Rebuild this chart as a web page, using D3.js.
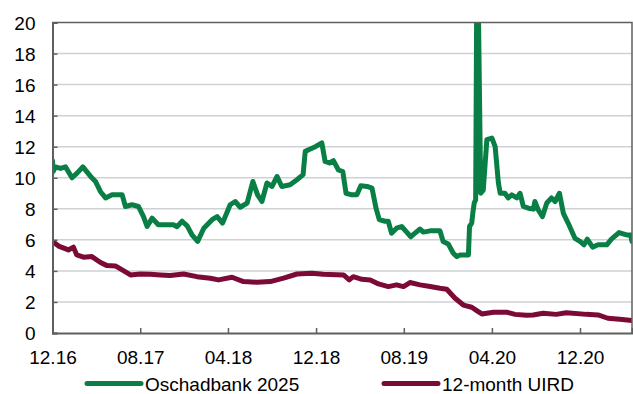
<!DOCTYPE html>
<html>
<head>
<meta charset="utf-8">
<script src="https://cdn.jsdelivr.net/npm/d3@7"></script>
<style>
  html, body { margin: 0; padding: 0; background: #fff; }
  svg { display: block; font-family: "Liberation Sans", Arial, sans-serif; }
</style>
</head>
<body>
<svg id="chart" width="633" height="394"></svg>
<script>
// Oschadbank 2025 Eurobond yield vs 12-month UIRD, %
const oschadDates = [
  "2016-12-01","2016-12-03","2016-12-09","2016-12-23","2017-01-06","2017-01-24","2017-02-07","2017-02-23",
  "2017-03-16","2017-03-30","2017-04-13","2017-04-27","2017-05-15","2017-06-12","2017-06-21","2017-07-09",
  "2017-07-27","2017-08-10","2017-08-20","2017-09-03","2017-09-20","2017-10-10","2017-11-01","2017-11-11",
  "2017-11-25","2017-12-09","2017-12-23","2018-01-07","2018-01-24","2018-02-16","2018-03-02","2018-03-17",
  "2018-04-07","2018-04-21","2018-05-05","2018-05-24","2018-06-09","2018-06-22","2018-07-04","2018-07-18",
  "2018-08-01","2018-08-15","2018-08-28","2018-09-20","2018-10-09","2018-10-26","2018-11-01","2018-11-15",
  "2018-11-29","2018-12-17","2018-12-26","2019-01-07","2019-01-18","2019-02-01","2019-02-13","2019-02-22",
  "2019-03-10","2019-03-24","2019-04-04","2019-04-21","2019-05-05","2019-05-16","2019-05-25","2019-06-10",
  "2019-06-19","2019-06-28","2019-07-12","2019-07-26","2019-08-09","2019-08-20","2019-09-01","2019-09-15",
  "2019-09-24","2019-10-13","2019-11-09","2019-11-18","2019-12-02","2019-12-16","2019-12-26","2020-01-04",
  "2020-01-27","2020-01-30","2020-02-05","2020-02-08","2020-02-12","2020-02-16","2020-02-19","2020-02-23",
  "2020-03-01","2020-03-08","2020-03-18","2020-04-01","2020-04-10","2020-04-19","2020-04-24","2020-05-07",
  "2020-05-16","2020-05-26","2020-06-09","2020-06-18","2020-06-27","2020-07-11","2020-07-25","2020-07-29",
  "2020-08-07","2020-08-19","2020-08-31","2020-09-13","2020-09-23","2020-10-05","2020-10-16","2020-10-29",
  "2020-11-17","2020-12-01","2020-12-12","2020-12-21","2021-01-05","2021-01-20","2021-02-13","2021-02-26",
  "2021-03-19","2021-04-09","2021-04-20","2021-04-24"
];
const oschadYield = [
  11.1, 10.4, 10.7, 10.6, 10.7, 10.0, 10.3, 10.7,
  10.1, 9.76, 9.1, 8.7, 8.9, 8.9, 8.15, 8.26,
  8.15, 7.5, 6.86, 7.4, 6.97, 6.97, 6.97, 6.85,
  7.2, 6.9, 6.3, 5.9, 6.75, 7.3, 7.5, 7.08,
  8.26, 8.47, 8.1, 8.37, 9.76, 8.9, 8.47, 9.66,
  9.44, 10.08, 9.44, 9.55, 9.87, 10.2, 11.7, 11.85,
  12.0, 12.24, 11.05, 10.95, 11.1, 10.5, 10.4, 9.0,
  8.9, 8.9, 9.48, 9.44, 9.33, 8.04, 7.3, 7.2,
  7.2, 6.43, 6.75, 6.86, 6.5, 6.2, 6.43, 6.7,
  6.5, 6.58, 6.58, 5.9, 5.74, 5.14, 4.92, 5.03,
  5.03, 6.86, 7.07, 7.7, 8.37, 8.58, 22.0, 22.0,
  9.0, 9.2, 12.45, 12.55, 12.0, 9.66, 9.0, 9.0,
  8.7, 8.9, 8.7, 9.0, 8.15, 8.04, 7.98, 8.47,
  7.94, 7.5, 8.37, 8.7, 8.47, 9.0, 7.7, 7.08,
  6.1, 5.9, 5.68, 6.04, 5.53, 5.68, 5.68, 6.04,
  6.47, 6.32, 6.32, 5.9
];

const uirdDates = [
  "2016-12-01","2016-12-18","2017-01-14","2017-01-28","2017-02-06","2017-02-25","2017-03-20","2017-04-13",
  "2017-05-01","2017-05-24","2017-06-12","2017-07-05","2017-08-01","2017-08-29","2017-09-26","2017-10-23",
  "2017-11-29","2018-01-05","2018-02-11","2018-03-06","2018-04-12","2018-05-14","2018-06-20","2018-07-27",
  "2018-09-02","2018-10-09","2018-11-19","2018-12-21","2019-02-15","2019-03-03","2019-03-14","2019-04-07",
  "2019-04-30","2019-05-23","2019-06-19","2019-07-12","2019-07-31","2019-08-18","2019-09-15","2019-10-13",
  "2019-11-09","2019-11-28","2019-12-21","2020-01-13","2020-02-05","2020-02-19","2020-03-04","2020-04-05",
  "2020-05-12","2020-06-04","2020-07-06","2020-07-24","2020-08-21","2020-09-26","2020-10-24","2020-12-19",
  "2021-01-20","2021-02-16","2021-03-21","2021-04-24"
];
const uirdRate = [
  5.9, 5.6, 5.35, 5.53, 5.03, 4.88, 4.92, 4.54,
  4.34, 4.32, 4.06, 3.74, 3.8, 3.78, 3.74, 3.7,
  3.8, 3.63, 3.53, 3.42, 3.59, 3.31, 3.27, 3.31,
  3.53, 3.8, 3.85, 3.78, 3.74, 3.42, 3.63, 3.46,
  3.42, 3.16, 2.99, 3.1, 2.99, 3.25, 3.1, 2.99,
  2.88, 2.82, 2.24, 1.8, 1.66, 1.44, 1.23, 1.34,
  1.34, 1.2, 1.14, 1.16, 1.27, 1.2, 1.31, 1.2,
  1.16, 0.95, 0.88, 0.8
];

const xTickLabels = ["12.16", "08.17", "04.18", "12.18", "08.19", "04.20", "12.20"];
const yTickValues = [0, 2, 4, 6, 8, 10, 12, 14, 16, 18, 20];
const seriesNames = ["Oschadbank 2025", "12-month UIRD"];
const xDomain = ["2016-12-01", "2021-04-24"];

const colors = ["#0a7f45", "#7c0a36"];
const fontSize = 19;

const parseDay = d3.utcParse("%Y-%m-%d");
const parseTick = d3.utcParse("%m.%y");

const svg = d3.select("#chart");
const plot = { left: 52.5, right: 632, top: 22.5, bottom: 333 };

const x = d3.scaleUtc()
  .domain(xDomain.map(parseDay))
  .range([plot.left, plot.right]);
const y = d3.scaleLinear()
  .domain([0, 20])
  .range([plot.bottom, plot.top]);

// horizontal gridlines
svg.append("g")
  .selectAll("line")
  .data(yTickValues.filter(v => v > 0 && v < 20))
  .join("line")
  .attr("x1", plot.left).attr("x2", plot.right)
  .attr("y1", d => y(d)).attr("y2", d => y(d))
  .attr("stroke", "#cfd1d4").attr("stroke-width", 1.5);

svg.append("clipPath").attr("id", "plotClip")
  .append("rect")
  .attr("x", plot.left).attr("y", plot.top)
  .attr("width", plot.right - plot.left).attr("height", plot.bottom - plot.top);

const line = d3.line()
  .x(d => x(d.date))
  .y(d => y(d.value))
  .curve(d3.curveLinear);

const series = [
  oschadDates.map((d, i) => ({ date: parseDay(d), value: oschadYield[i] })),
  uirdDates.map((d, i) => ({ date: parseDay(d), value: uirdRate[i] }))
];

svg.append("g").attr("clip-path", "url(#plotClip)")
  .selectAll("path")
  .data(series)
  .join("path")
  .attr("d", line)
  .attr("fill", "none")
  .attr("stroke", (d, i) => colors[i])
  .attr("stroke-width", 5)
  .attr("stroke-linejoin", "round")
  .attr("stroke-linecap", "round");

// frame: top and right border
svg.append("path")
  .attr("d", `M${plot.left},${plot.top}H${plot.right}V${plot.bottom}`)
  .attr("fill", "none").attr("stroke", "#5f5f5f").attr("stroke-width", 1.5);

// y axis
const yAxis = svg.append("g")
  .attr("transform", `translate(${plot.left},0)`)
  .call(d3.axisRight(y).tickValues(yTickValues).tickSize(5).tickFormat(d3.format("d")));
yAxis.select(".domain").attr("stroke", "#5f5f5f").attr("stroke-width", 2);
yAxis.selectAll(".tick line").attr("stroke", "#5f5f5f").attr("stroke-width", 1.5);
yAxis.selectAll(".tick text")
  .attr("x", -17).attr("text-anchor", "end").attr("dy", "0.35em")
  .attr("font-size", fontSize).attr("fill", "#000")
  .attr("font-family", "Liberation Sans, Arial, sans-serif");

// x axis
const xAxis = svg.append("g")
  .attr("transform", `translate(0,${plot.bottom})`)
  .call(d3.axisTop(x).tickValues(xTickLabels.map(parseTick)).tickSize(5).tickFormat(d3.utcFormat("%m.%y")));
xAxis.select(".domain").attr("stroke", "#5f5f5f").attr("stroke-width", 2);
xAxis.selectAll(".tick line").attr("stroke", "#5f5f5f").attr("stroke-width", 1.5);
xAxis.selectAll(".tick text")
  .attr("y", 31).attr("dy", 0)
  .attr("font-size", fontSize).attr("fill", "#000")
  .attr("font-family", "Liberation Sans, Arial, sans-serif");

// legend
const legendX = [87, 384];
const legend = svg.append("g")
  .selectAll("g")
  .data(seriesNames)
  .join("g")
  .attr("transform", (d, i) => `translate(${legendX[i]},383.5)`);
legend.append("line")
  .attr("x1", 0).attr("x2", 54).attr("y1", 0).attr("y2", 0)
  .attr("stroke", (d, i) => colors[i]).attr("stroke-width", 5)
  .attr("stroke-linecap", "round");
legend.append("text")
  .attr("x", 58).attr("y", 7)
  .attr("font-size", fontSize).attr("fill", "#000")
  .text(d => d);
</script>
</body>
</html>
